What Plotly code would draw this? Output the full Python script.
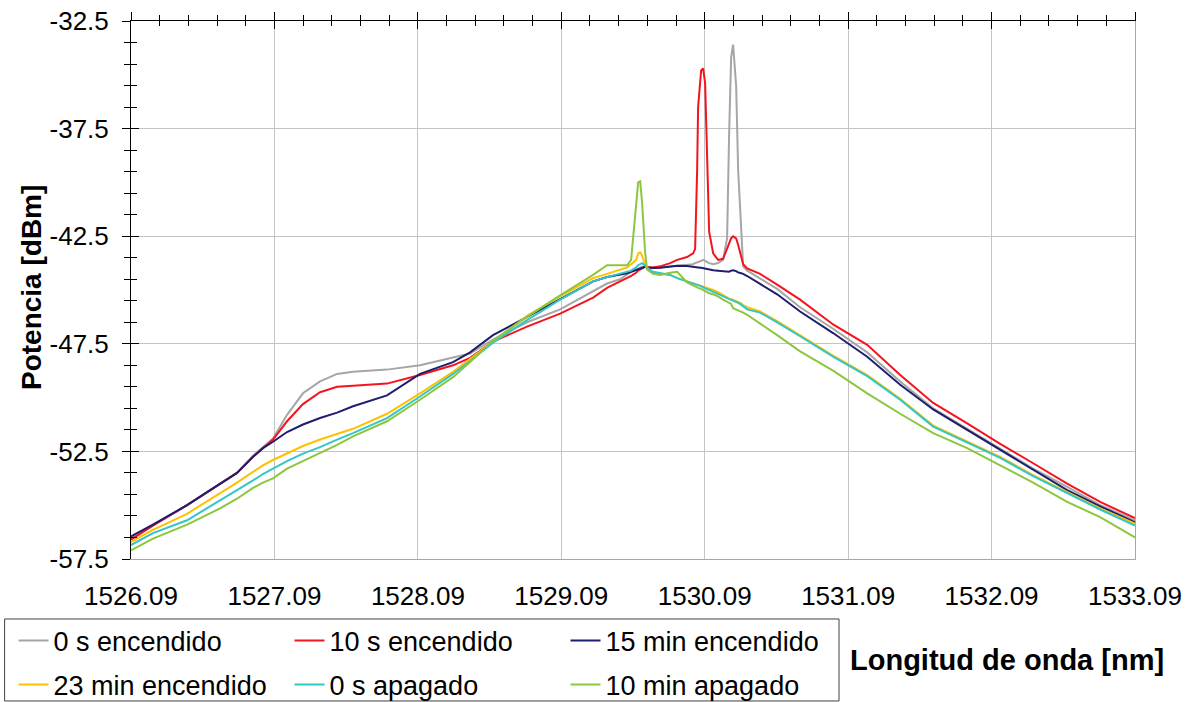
import plotly.graph_objects as go

# Wavelength samples (nm)
wavelength = [
    1526.090, 1526.243, 1526.481, 1526.711, 1526.829, 1526.941, 1527.010, 1527.080, 1527.178, 1527.289,
    1527.408, 1527.527, 1527.638, 1527.875, 1528.105, 1528.335, 1528.454, 1528.614, 1528.851, 1529.082,
    1529.312, 1529.409, 1529.500, 1529.549, 1529.577, 1529.598, 1529.612, 1529.626, 1529.640, 1529.653,
    1529.674, 1529.688, 1529.730, 1529.779, 1529.849, 1529.898, 1529.967, 1530.009, 1530.023, 1530.037,
    1530.044, 1530.065, 1530.079, 1530.093, 1530.107, 1530.121, 1530.149, 1530.183, 1530.218, 1530.246,
    1530.260, 1530.274, 1530.288, 1530.309, 1530.323, 1530.344, 1530.358, 1530.386, 1530.476, 1530.595,
    1530.755, 1530.985, 1531.223, 1531.453, 1531.683, 1531.920, 1532.150, 1532.380, 1532.617, 1532.847,
    1533.090,
]

s0_encendido = [
    -56.5, -55.9, -55.0, -54.0, -53.5, -52.7, -52.3, -51.9, -50.8, -49.8,
    -49.25, -48.9, -48.8, -48.7, -48.5, -48.15, -47.95, -47.3, -46.5, -45.9,
    -45.05, -44.7, -44.5, -44.25, -44.15, -44.1, -44.05, -44.0, -43.95, -43.92,
    -43.9, -43.92, -43.95, -43.95, -43.9, -43.88, -43.85, -43.8, -43.75, -43.7,
    -43.7, -43.65, -43.6, -43.65, -43.7, -43.75, -43.8, -43.75, -43.6, -42.6,
    -37.8, -34.2, -33.6, -35.5, -39.4, -42.5, -43.9, -44.1, -44.45, -44.95,
    -45.8, -46.8, -47.9, -49.25, -50.5, -51.45, -52.35, -53.3, -54.15, -55.0,
    -55.7,
]

s10_encendido = [
    -56.6, -55.95, -55.0, -54.0, -53.5, -52.75, -52.35, -51.95, -51.1, -50.3,
    -49.75, -49.5, -49.45, -49.35, -48.95, -48.5, -48.15, -47.4, -46.7, -46.1,
    -45.35, -44.9, -44.6, -44.45, -44.35, -44.25, -44.2, -44.1, -44.05, -44.0,
    -43.92, -43.95, -43.95, -43.9, -43.75, -43.6, -43.47, -43.3, -43.1, -39.5,
    -36.5, -34.8, -34.7, -35.4, -39.2, -42.3, -43.3, -43.6, -43.55, -43.1,
    -42.9, -42.6, -42.5, -42.6, -42.9, -43.5, -43.8, -44.0, -44.25, -44.75,
    -45.45, -46.6, -47.55, -48.95, -50.25, -51.2, -52.15, -53.05, -54.0, -54.85,
    -55.6,
]

m15_encendido = [
    -56.45, -55.9, -55.0, -54.0, -53.5, -52.75, -52.35, -52.05, -51.6, -51.25,
    -50.95, -50.7, -50.4, -49.9, -48.9, -48.35, -47.9, -47.1, -46.25, -45.4,
    -44.6, -44.4, -44.3, -44.22, -44.15, -44.1, -44.05, -44.0, -43.97, -43.94,
    -43.92, -43.95, -43.98, -43.97, -43.9, -43.87, -43.88, -43.9, -43.92, -43.93,
    -43.95, -43.97, -43.99, -44.02, -44.04, -44.05, -44.08, -44.1, -44.12, -44.13,
    -44.15, -44.1, -44.08, -44.12, -44.18, -44.22, -44.25, -44.35, -44.7, -45.2,
    -46.0, -47.0, -48.1, -49.4, -50.55, -51.5, -52.45, -53.35, -54.3, -55.05,
    -55.8,
]

m23_encendido = [
    -56.7, -56.15, -55.4, -54.45, -53.95, -53.45, -53.15, -52.9, -52.6, -52.25,
    -51.95, -51.7, -51.45, -50.75, -49.8, -48.8, -48.2, -47.4, -46.2, -45.3,
    -44.45, -44.25, -44.05, -43.95, -43.8, -43.7, -43.6, -43.3, -43.25, -43.4,
    -43.8, -43.95, -44.2, -44.25, -44.3, -44.45, -44.6, -44.7, -44.72, -44.74,
    -44.75, -44.8, -44.85, -44.88, -44.9, -44.95, -45.0, -45.1, -45.25, -45.35,
    -45.4, -45.42, -45.45, -45.5, -45.55, -45.62, -45.7, -45.8, -46.0, -46.45,
    -47.1, -48.05, -48.95, -50.05, -51.3, -52.05, -52.75, -53.6, -54.4, -55.15,
    -55.85,
]

s0_apagado = [
    -56.85, -56.3, -55.7, -54.75, -54.3, -53.85, -53.55, -53.3, -52.95, -52.6,
    -52.3, -51.95, -51.65, -50.95, -49.95, -48.9, -48.3, -47.45, -46.4, -45.45,
    -44.6, -44.4, -44.25, -44.15, -44.1, -44.0, -43.95, -43.85, -43.8, -43.75,
    -43.85, -44.0, -44.15, -44.2, -44.3, -44.45, -44.6, -44.7, -44.72, -44.75,
    -44.77, -44.82, -44.88, -44.92, -44.95, -45.0, -45.08, -45.15, -45.28, -45.38,
    -45.42, -45.45, -45.47, -45.55, -45.6, -45.68, -45.75, -45.9, -46.05, -46.5,
    -47.15, -48.1, -49.0, -50.1, -51.35, -52.1, -52.8, -53.65, -54.45, -55.2,
    -55.95,
]

m10_apagado = [
    -57.1, -56.55, -55.9, -55.15, -54.7, -54.2, -53.95, -53.75, -53.3, -52.95,
    -52.6, -52.2, -51.8, -51.1, -50.1, -49.05, -48.35, -47.35, -46.25, -45.25,
    -44.3, -43.85, -43.85, -43.85, -43.6, -42.2, -41.0, -40.0, -39.95, -40.9,
    -43.2, -44.05, -44.25, -44.3, -44.2, -44.15, -44.65, -44.8, -44.85, -44.88,
    -44.9, -44.95, -45.0, -45.05, -45.1, -45.15, -45.2, -45.3, -45.45, -45.55,
    -45.6, -45.65, -45.85, -45.9, -45.95, -46.0, -46.05, -46.15, -46.55, -47.1,
    -47.85, -48.75, -49.8, -50.75, -51.65, -52.35, -53.15, -53.95, -54.85, -55.55,
    -56.5,
]

series_names = ["0 s encendido", "10 s encendido", "15 min encendido",
                "23 min encendido", "0 s apagado", "10 min apagado"]
series_values = [s0_encendido, s10_encendido, m15_encendido,
                 m23_encendido, s0_apagado, m10_apagado]
series_colors = ["#A6A6A6", "#F5141E", "#1E1E6E", "#FFC000", "#33C6C6", "#8CC63E"]
series_legend = ["legend", "legend", "legend", "legend2", "legend2", "legend2"]

x_ticks = [1526.09, 1527.09, 1528.09, 1529.09, 1530.09, 1531.09, 1532.09, 1533.09]
y_ticks = [-57.5, -52.5, -47.5, -42.5, -37.5, -32.5]

FONT = "Liberation Sans, Arial, sans-serif"

fig = go.Figure()
for name, vals, col, lg in zip(series_names, series_values, series_colors, series_legend):
    fig.add_trace(go.Scatter(x=wavelength, y=vals, mode="lines", name=name,
                             line=dict(color=col, width=2), legend=lg))

# empty helper traces so the extra decorative axes get drawn
for xa, ya in [("x2", "y"), ("x3", "y"), ("x", "y2"), ("x", "y3"), ("x", "y4")]:
    fig.add_trace(go.Scatter(x=[], y=[], xaxis=xa, yaxis=ya, showlegend=False, hoverinfo="skip"))

xr = [x_ticks[0], x_ticks[-1]]
yr = [y_ticks[0], y_ticks[-1]]

leg_common = dict(orientation="h", xref="container", yref="container",
                  x=0.0113, xanchor="left", yanchor="middle",
                  font=dict(size=27, family=FONT), entrywidth=231, bgcolor="rgba(0,0,0,0)",
                  borderwidth=0, itemwidth=30, tracegroupgap=0)

fig.update_layout(
    width=1196, height=702,
    margin=dict(l=131, r=61, t=21, b=143, autoexpand=False),
    paper_bgcolor="white", plot_bgcolor="white",
    font=dict(family=FONT, size=26, color="black"),
    xaxis=dict(range=xr, tickvals=x_ticks, ticktext=[f"{v:.2f}" for v in x_ticks],
               showgrid=True, gridcolor="#C4C4C4", gridwidth=1, zeroline=False,
               showline=True, linecolor="#A6A6A6", linewidth=1, ticks="",
               ticklabelstandoff=14, tickfont=dict(size=26), automargin=False),
    xaxis2=dict(range=xr, overlaying="x", side="top", anchor="y", showgrid=False,
                zeroline=False, showticklabels=False, showline=True, linecolor="black",
                linewidth=1, tickvals=x_ticks, ticks="outside", ticklen=8, tickcolor="black",
                automargin=False,
                minor=dict(dtick=0.2, tick0=1526.09, ticks="outside", ticklen=5, tickcolor="black", showgrid=False)),
    xaxis3=dict(range=xr, overlaying="x", side="top", anchor="y", showgrid=False,
                zeroline=False, showticklabels=False, showline=False, automargin=False,
                tickvals=x_ticks, ticks="inside", ticklen=8, tickcolor="black",
                minor=dict(dtick=0.2, tick0=1526.09, ticks="inside", ticklen=5, tickcolor="black", showgrid=False)),
    yaxis=dict(range=yr, tickvals=y_ticks, ticktext=[f"{v:.1f}" for v in y_ticks],
               showgrid=True, gridcolor="#C4C4C4", gridwidth=1, zeroline=False,
               showline=True, linecolor="black", linewidth=1, ticks="",
               ticklabelstandoff=16, tickfont=dict(size=26), automargin=False),
    yaxis2=dict(range=yr, overlaying="y", side="left", anchor="x", showgrid=False,
                zeroline=False, showticklabels=False, showline=False, automargin=False,
                tickvals=y_ticks, ticks="inside", ticklen=8, tickcolor="black",
                minor=dict(dtick=1, tick0=-57.5, ticks="inside", ticklen=6, tickcolor="black", showgrid=False)),
    yaxis4=dict(range=yr, overlaying="y", side="left", anchor="x", showgrid=False,
                zeroline=False, showticklabels=False, showline=False, automargin=False,
                tickvals=y_ticks, ticks="outside", ticklen=8, tickcolor="black",
                minor=dict(dtick=1, tick0=-57.5, ticks="outside", ticklen=6, tickcolor="black", showgrid=False)),
    yaxis3=dict(range=yr, overlaying="y", side="right", anchor="x", showgrid=False,
                zeroline=False, showticklabels=False, showline=True, linecolor="#A6A6A6",
                linewidth=1, ticks="", automargin=False),
    legend=dict(leg_common, y=1 - 641 / 702),
    legend2=dict(leg_common, y=1 - 685 / 702),
    showlegend=True,
)

# legend frame
fig.add_shape(type="rect", xref="paper", yref="paper",
              x0=-0.1259, x1=0.7052, y0=-0.2639, y1=-0.1115,
              line=dict(color="#404040", width=1), fillcolor="rgba(0,0,0,0)", layer="above")

fig.add_annotation(text="<b>Potencia [dBm]</b>", xref="paper", yref="paper",
                   x=-0.0996, y=0.5037, xanchor="center", yanchor="middle",
                   textangle=-90, showarrow=False, font=dict(size=28, family=FONT))
fig.add_annotation(text="<b>Longitud de onda [nm]</b>", xref="paper", yref="paper",
                   x=0.8725, y=-0.1877, xanchor="center", yanchor="middle",
                   showarrow=False, font=dict(size=29, family=FONT))

fig.write_html("out.html")
